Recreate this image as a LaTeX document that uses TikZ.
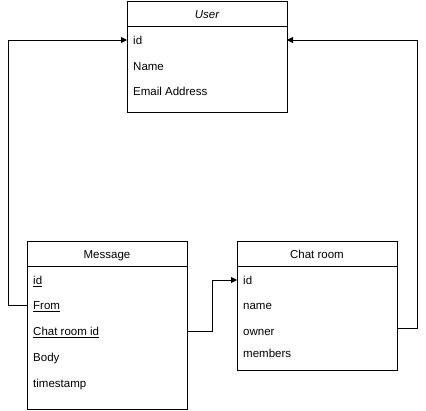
\documentclass[tikz,border=0pt]{standalone}
\usepackage{fontspec}
\setmainfont{Liberation Sans}
\usetikzlibrary{arrows.meta}
\begin{document}
\begin{tikzpicture}[x=1pt,y=-1pt,
  box/.style={draw=black,line width=0.9pt,fill=white},
  field/.style={anchor=base west,inner sep=0pt,yshift=-4.2pt,font=\fontsize{11.5}{13}\selectfont},
  title/.style={anchor=base,inner sep=0pt,yshift=-4.2pt,font=\fontsize{11.5}{13}\selectfont},
  conn/.style={draw=black,line width=0.9pt,-{Triangle[length=6pt,width=6pt]}},
  plain/.style={draw=black,line width=0.9pt}]
\useasboundingbox (0,0) rectangle (426,411);
% User
\draw[box] (127,1) rectangle (287,112);
\draw[plain] (127,26) -- (287,26);
\node[title] (ut) at (207,14) {\itshape User};
\coordinate (uL) at (127,40);
\coordinate (uR) at (287,40);
\node[field] (uid) at (133,40) {id};
\node[field] (uname) at (133,66) {Name};
\node[field] (uemail) at (133,91) {Email Address};
% Message
\draw[box] (27,241) rectangle (187,409);
\draw[plain] (27,266) -- (187,266);
\node[title] (mt) at (107,254) {Message};
\node[field] (mid) at (33,280) {\underline{id}};
\node[field] (mfrom) at (33,305) {\underline{From}};
\node[field] (mcr) at (33,331) {\underline{Chat room id}};
\node[field] (mbody) at (33,357) {Body};
\node[field] (mts) at (33,383) {timestamp};
\coordinate (mL) at (27,305);
\coordinate (mR) at (187,331);
% Chat room
\draw[box] (237,241) rectangle (397,370);
\draw[plain] (237,266) -- (397,266);
\node[title] (ct) at (317,254) {Chat room};
\node[field] (cid) at (243,280) {id};
\node[field] (cname) at (243,305) {name};
\node[field] (cowner) at (243,331) {owner};
\node[field] (cmem) at (243,353) {members};
\coordinate (cL) at (237,280);
\coordinate (cR) at (397,328);
% connectors
\draw[conn] (mL) -- (8,305) -- (8,40) -- (uL);
\draw[conn] (cR) -- (417,328) -- (417,40) -- (uR);
\draw[conn] (mR) -- (212,331) -- (212,280) -- (cL);
\end{tikzpicture}
\end{document}
